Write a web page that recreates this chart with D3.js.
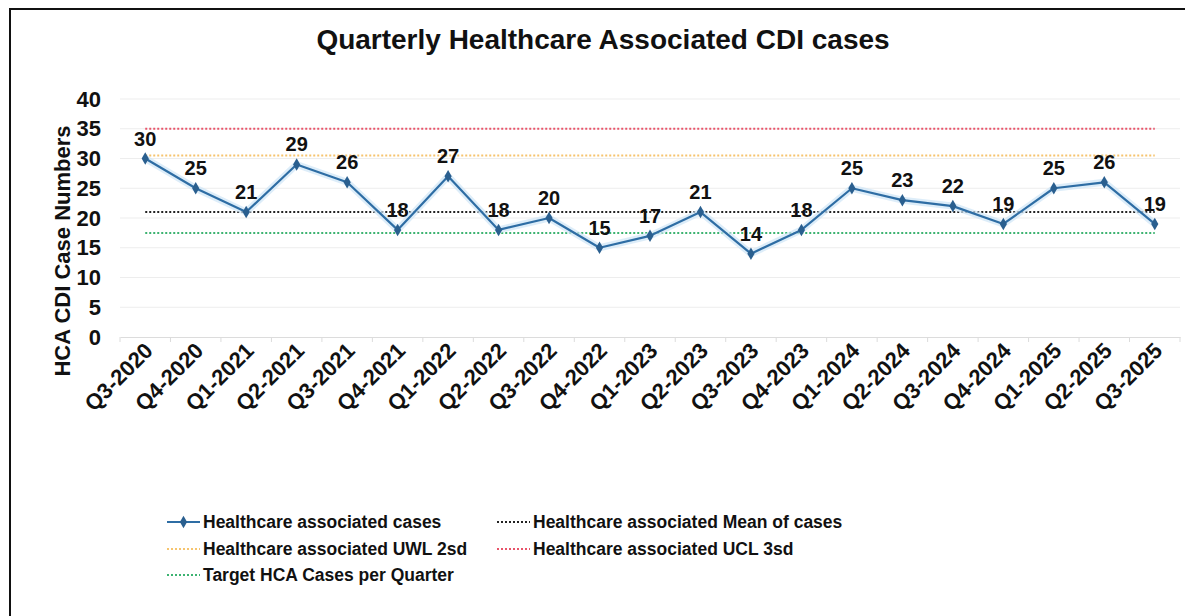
<!DOCTYPE html>
<html>
<head>
<meta charset="utf-8">
<script src="https://cdn.jsdelivr.net/npm/d3@7"></script>
<style>
  html, body { margin: 0; padding: 0; background: #fff; }
  svg { display: block; }
</style>
</head>
<body>
<svg id="chart" width="1185" height="616"></svg>
<script>
const categories = ["Q3-2020","Q4-2020","Q1-2021","Q2-2021","Q3-2021","Q4-2021","Q1-2022","Q2-2022","Q3-2022","Q4-2022","Q1-2023","Q2-2023","Q3-2023","Q4-2023","Q1-2024","Q2-2024","Q3-2024","Q4-2024","Q1-2025","Q2-2025","Q3-2025"];
const cases = [30,25,21,29,26,18,27,18,20,15,17,21,14,18,25,23,22,19,25,26,19];
const meanValue = 21;
const uwlValue = 30.5;
const uclValue = 35;
const targetValue = 17.5;
const yTicks = [0,5,10,15,20,25,30,35,40];
const legendLabels = ["Healthcare associated cases","Healthcare associated Mean of cases","Healthcare associated UWL 2sd","Healthcare associated UCL 3sd","Target HCA Cases per Quarter"];

const svg = d3.select("#chart");
const BOLD = "'Liberation Sans', Arial, sans-serif";

// frame
svg.append("rect").attr("x", 10).attr("y", 9).attr("width", 1200).attr("height", 640)
  .attr("fill", "none").attr("stroke", "#111").attr("stroke-width", 2);

const x = d3.scalePoint().domain(categories).range([120, 1180]).padding(0.5);
const y = d3.scaleLinear().domain([0, 40]).range([337, 99]);

// gridlines
svg.append("g").selectAll("line").data(yTicks.filter(t => t > 0)).join("line")
  .attr("x1", 120).attr("x2", 1180)
  .attr("y1", d => y(d)).attr("y2", d => y(d))
  .attr("stroke", "#ededed").attr("stroke-width", 1);

// x axis baseline + ticks
const xAxis = d3.axisBottom(x).tickSize(0).tickFormat("");
const gx = svg.append("g").attr("transform", `translate(0,${y(0)})`).call(xAxis);
gx.select(".domain").attr("stroke", "#dcdcdc").attr("stroke-width", 1.2);
const step = x.step();
svg.append("g").selectAll("line").data(d3.range(categories.length + 1)).join("line")
  .attr("x1", i => 120 + i * step).attr("x2", i => 120 + i * step)
  .attr("y1", y(0)).attr("y2", y(0) + 5)
  .attr("stroke", "#dcdcdc");

// x labels
svg.append("g").selectAll("text").data(categories).join("text")
  .attr("transform", d => `translate(${x(d) + 9},${y(0) + 15}) rotate(-45)`)
  .attr("text-anchor", "end")
  .attr("font-family", BOLD).attr("font-weight", "bold").attr("font-size", 22)
  .attr("fill", "#111").text(d => d);

// y axis labels
const yAxis = d3.axisLeft(y).tickValues(yTicks).tickSize(0).tickPadding(0);
const gy = svg.append("g").attr("transform", "translate(101,0)").call(yAxis);
gy.select(".domain").remove();
gy.selectAll("text").attr("font-family", BOLD).attr("font-weight", "bold")
  .attr("font-size", 22).attr("fill", "#111");

// y title
svg.append("text")
  .attr("transform", "translate(70,251) rotate(-90)")
  .attr("text-anchor", "middle")
  .attr("font-family", BOLD).attr("font-weight", "bold").attr("font-size", 22)
  .attr("fill", "#111").text("HCA CDI Case Numbers");

// title
svg.append("text").attr("x", 603).attr("y", 49).attr("text-anchor", "middle")
  .attr("font-family", BOLD).attr("font-weight", "bold").attr("font-size", 28)
  .attr("fill", "#111").text("Quarterly Healthcare Associated CDI cases");

// reference lines
const refs = [
  {v: uclValue, c: "#e8546a"},
  {v: uwlValue, c: "#f6c46e"},
  {v: meanValue, c: "#222"},
  {v: targetValue, c: "#3cb371"}
];
svg.append("g").selectAll("line").data(refs).join("line")
  .attr("x1", x(categories[0])).attr("x2", x(categories[categories.length - 1]))
  .attr("y1", d => y(d.v)).attr("y2", d => y(d.v))
  .attr("stroke", d => d.c).attr("stroke-width", 2).attr("stroke-dasharray", "2,2");

// series line
const line = d3.line().x((d, i) => x(categories[i])).y(d => y(d));
svg.append("path").datum(cases).attr("d", line)
  .attr("fill", "none").attr("stroke", "#cfe5f7").attr("stroke-width", 7)
  .attr("stroke-linejoin", "round").attr("opacity", 0.7);
svg.append("path").datum(cases).attr("d", line)
  .attr("fill", "none").attr("stroke", "#2e6da4").attr("stroke-width", 2.2)
  .attr("stroke-linejoin", "round");
const diamond = d3.symbol().type(d3.symbolDiamond).size(45);
svg.append("g").selectAll("path").data(cases).join("path")
  .attr("d", diamond)
  .attr("transform", (d, i) => `translate(${x(categories[i])},${y(d)})`)
  .attr("fill", "#2a5f8f");

// data labels
svg.append("g").selectAll("text").data(cases).join("text")
  .attr("x", (d, i) => x(categories[i]))
  .attr("y", d => y(d) - 13)
  .attr("text-anchor", "middle")
  .attr("font-family", BOLD).attr("font-weight", "bold").attr("font-size", 20)
  .attr("fill", "#111").text(d => d);

// legend
const legendItems = [
  {label: legendLabels[0], c: "#2e6da4", solid: true, lx: 167, ly: 522},
  {label: legendLabels[1], c: "#222", solid: false, lx: 497, ly: 522},
  {label: legendLabels[2], c: "#f6c46e", solid: false, lx: 167, ly: 549},
  {label: legendLabels[3], c: "#e8546a", solid: false, lx: 497, ly: 549},
  {label: legendLabels[4], c: "#3cb371", solid: false, lx: 167, ly: 575}
];
const lg = svg.append("g").selectAll("g").data(legendItems).join("g")
  .attr("transform", d => `translate(${d.lx},${d.ly})`);
lg.append("line").attr("x1", 0).attr("x2", 33).attr("y1", 0).attr("y2", 0)
  .attr("stroke", d => d.c).attr("stroke-width", 2)
  .attr("stroke-dasharray", d => d.solid ? null : "2,2");
lg.filter(d => d.solid).append("path").attr("d", diamond)
  .attr("transform", "translate(16.5,0)").attr("fill", "#2a5f8f");
lg.append("text").attr("x", 36).attr("y", 6)
  .attr("font-family", BOLD).attr("font-weight", "bold").attr("font-size", 17.5)
  .attr("fill", "#111").text(d => d.label);
</script>
</body>
</html>
